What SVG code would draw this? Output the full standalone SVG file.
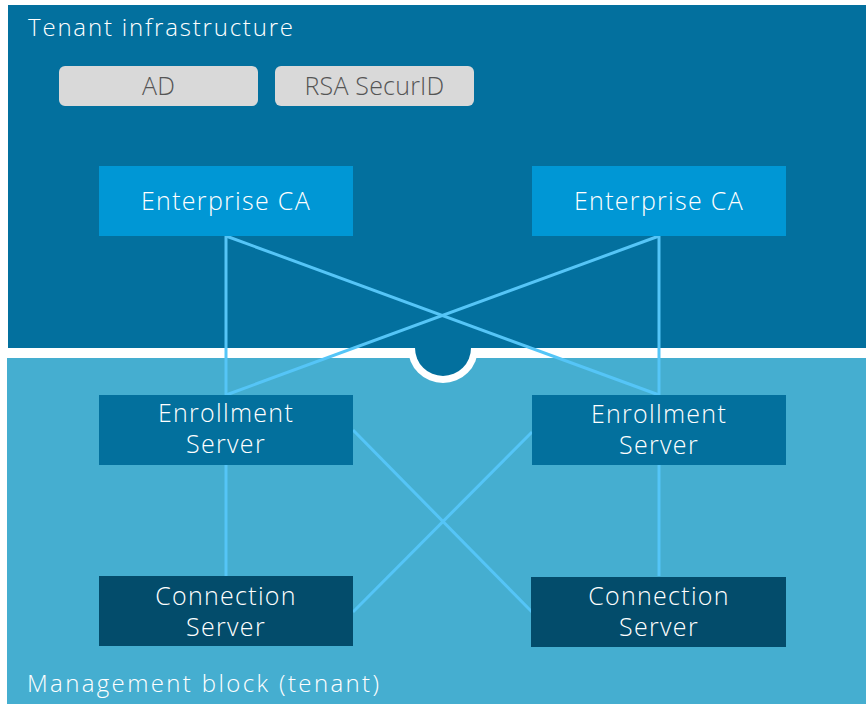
<svg xmlns="http://www.w3.org/2000/svg" width="866" height="704" viewBox="0 0 866 704">
  <style>
    text { font-family: "Open Sans", "Liberation Sans", sans-serif; font-size: 25px; font-weight: 300; letter-spacing: 1.3px; fill: #ffffff; }
    .zone-title { font-size: 24px; letter-spacing: 0; }
    .mid { text-anchor: middle; }
    .grey { fill: #555555; letter-spacing: 0.2px; }
    .ca { fill: #0097d5; }
    .enr { fill: #03709d; }
    .con { fill: #034c6b; }
    .svc { fill: #d9d9d9; }
    .link { stroke: #55c5f7; stroke-width: 3; fill: none; }
  </style>
  <rect width="866" height="704" fill="#ffffff"/>

  <!-- tenant infrastructure zone -->
  <g id="zone-tenant">
    <rect x="8" y="5" width="858" height="343" fill="#03709e"/>
    <text class="zone-title" x="28" y="36" textLength="265" lengthAdjust="spacing">Tenant infrastructure</text>
  </g>

  <!-- management block zone, with the half-round notch in its top edge -->
  <g id="zone-management">
    <rect x="7" y="358" width="859" height="346" fill="#45aed0"/>
    <path d="M408 348 A35 35 0 0 0 478 348 Z" fill="#ffffff"/>
    <path d="M415 348 A28 28 0 0 0 471 348 Z" fill="#03709e"/>
    <text class="zone-title" x="27" y="692" textLength="352" lengthAdjust="spacing">Management block (tenant)</text>
  </g>

  <g id="connectors">
    <line class="link" x1="226" y1="236" x2="226" y2="395"/>
    <line class="link" x1="226" y1="236" x2="659" y2="395"/>
    <line class="link" x1="659" y1="236" x2="659" y2="395"/>
    <line class="link" x1="659" y1="236" x2="226" y2="395"/>
    <line class="link" x1="353" y1="430" x2="532" y2="612"/>
    <line class="link" x1="532" y1="432" x2="353" y2="612"/>
    <line class="link" x1="226" y1="465" x2="226" y2="576"/>
    <line class="link" x1="659" y1="465" x2="659" y2="576"/>
  </g>

  <g id="ad">
    <rect class="svc" x="59" y="66" width="199" height="40" rx="6"/>
    <text class="mid grey" x="158.5" y="95">AD</text>
  </g>
  <g id="rsa-securid">
    <rect class="svc" x="275" y="66" width="199" height="40" rx="6"/>
    <text class="mid grey" x="374.5" y="95">RSA SecurID</text>
  </g>

  <g id="enterprise-ca-1">
    <rect class="ca" x="99" y="166" width="254" height="70"/>
    <text class="mid" x="226" y="210">Enterprise CA</text>
  </g>
  <g id="enterprise-ca-2">
    <rect class="ca" x="532" y="166" width="254" height="70"/>
    <text class="mid" x="659" y="210">Enterprise CA</text>
  </g>

  <g id="enrollment-server-1">
    <rect class="enr" x="99" y="395" width="254" height="70"/>
    <text class="mid" x="226" y="422">Enrollment<tspan x="226" dy="31">Server</tspan></text>
  </g>
  <g id="enrollment-server-2">
    <rect class="enr" x="532" y="395" width="254" height="70"/>
    <text class="mid" x="659" y="423">Enrollment<tspan x="659" dy="31">Server</tspan></text>
  </g>

  <g id="connection-server-1">
    <rect class="con" x="99" y="576" width="254" height="70"/>
    <text class="mid" x="226" y="605">Connection<tspan x="226" dy="31">Server</tspan></text>
  </g>
  <g id="connection-server-2">
    <rect class="con" x="531" y="577" width="255" height="70"/>
    <text class="mid" x="659" y="605">Connection<tspan x="659" dy="31">Server</tspan></text>
  </g>
</svg>
